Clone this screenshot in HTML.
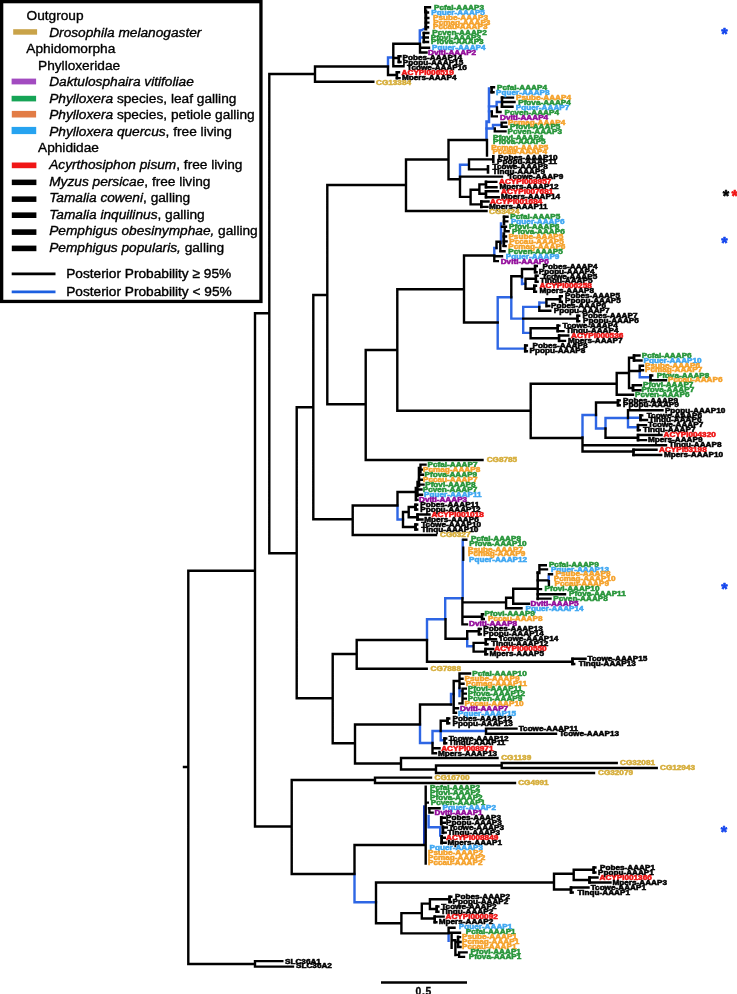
<!DOCTYPE html>
<html lang="en"><head><meta charset="utf-8"><title>AAAP phylogeny</title><style>html,body{margin:0;padding:0;background:#fff}svg{display:block;will-change:transform}</style></head><body>
<svg width="737" height="994" viewBox="0 0 737 994">
<rect width="737" height="994" fill="#fff"/>
<defs><filter id="soft" x="0" y="0" width="100%" height="100%" filterUnits="objectBoundingBox"><feGaussianBlur stdDeviation="0.45"/></filter></defs>
<g filter="url(#soft)"><rect width="737" height="994" fill="#fff"/>
<path d="M420 31L424.8 28.5" fill="none" stroke="#2d66e4" stroke-width="2.2"/>
<path d="M427 618.8V641.2M354.5 872.8V903.5M353.3 902.3H377.2M388 56.3V67.7M386.8 57.5H394.2M419.8 29.3V45M418.6 37.5H424.9M487.8 106.4H497.8M496.6 100.8V107.6M495.4 102H502.8M487.8 111.4H492.8M485.3 128.5H494.2M493 123.8V129.7M491.8 125H502.2M460 163.5V179.7M458.8 164.7H469.7M494.3 246.8V256.7M493.1 248H497.7M497.7 296V349.8M496.5 297.2H512.5M496.5 348.6H526.2M511.3 296V319.8M522 276.1V285.2M520.8 283.8H526.4M510.1 318.6H524.4M523.2 305.7V334.1M522 306.9H540.5M539.3 301.3V308.2M538.1 302.6H547.4M522 332.9H531.5M639.7 369.8V378.5M638.5 377.3H651.7M582.5 413.8V438.7M581.3 415H597.2M596 413.8V429.7M594.8 428.5H606.7M605.5 416.8V429.7M604.3 418H629.2M628 416.8V428.5M626.8 417.7H641.7M626.8 427.3H639.2M397.5 504.3V520.7M396.3 519.5H404.2M462.7 538.8V599.5M444 598.3H463.9M445.2 597.1V620.4M425.8 619.2H446.4M467.2 637.6V647.5M466 646.3H474.2M548.7 575.2V582.4M420 723.3V744.2M451 692.8V705.7M449.8 694H454.9M459.5 686.8V697.2M458.3 691H463.7M418.8 743H433.7M432.5 729.8V744.2M431.3 731H487.2M440.7 729.8V741.5M439.5 740.3H445.7M428.6 814.8V828.5M427.4 827.3H440.8M440.2 826.1V836.8M448.6 932.2V942.1" fill="none" stroke="#2d66e4" stroke-width="2.4"/>
<path d="M424.2 805.3V845" fill="none" stroke="#1c3fb8" stroke-width="2.4"/>
<path d="M486.5 120.25V141.25M485.25 121.5H490.25M489 87.25V123.25M501 222.35V244.25" fill="none" stroke="#2d66e4" stroke-width="2.5"/>
<path d="M182.8 767H189.5M188.3 569.5V965.2M187.1 570.7H256.2M187.1 964H256.2M255 959.9V967.8M253.8 961.1H283.5M253.8 966.6H294.2M255 312.1V827.7M253.8 313.3H270.5M269.3 72.8V554.5M268.1 74H316.2M315 65.3V83M313.8 66.5H389.2M313.8 81.8H374.5M268.1 553.3H297.9M296.7 406.1V699.5M295.5 407.3H314.5M313.3 293.8V520.5M312.1 295H328.5M327.3 183.8V405.5M326.1 185H407.2M406 158.3V212.2M404.8 211H487.7M404.8 159.5H449.7M326.1 404.3H366.9M365.7 348.8V461.2M364.5 350H398.5M397.3 288.1V411.9M396.1 289.3H465.2M396.1 410.7H531.9M530.7 382.5V439.2M529.5 383.7H617.9M529.5 438H583.7M364.5 460H483.7M312.1 519.3H353.9M352.7 504.3V536.2M351.5 505.5H398.7M351.5 535H437.2M295.5 698.3H333.9M332.7 652.8V744.5M331.5 654H357.9M356.7 638.8V670M355.5 640H428.2M355.5 668.8H427.9M427 638.8V662.9M425.8 661.7H573.7M331.5 743.3H356.2M355 723.3V764.7M353.8 724.5H421.2M353.8 763.5H402.2M401 756.8V770.7M399.8 758H498.7M399.8 769.5H437.2M436 764.3V774.2M434.8 773H595.2M434.8 765.5H502.9M501.7 761.8V769.2M500.5 763H617.9M500.5 768H657.9M253.8 826.5H292.9M291.7 778.8V875.2M290.5 780H376.2M375 776.4V784.2M373.8 777.6H432.2M373.8 783H516.2M290.5 874H355.7M354.5 843.8V875.2M353.3 845H426.2M376 881.3V924.4M374.8 882.5H555.2M374.8 923.2H402.6M401.4 911.9V934.6M388 65.3V76.2M393.3 42.6V67.2M392.1 43.8H421.2M420 42.6V53.7M418.8 47.7H430.2M418.8 52.5H427.7M422.6 33H429.5M422.6 37.5H429M422.6 42H429.2M425.2 6V13.2M424 7.2H431.2M424.6 12.5H429.2M424.6 18H429.5M424.6 22.6H429.5M424.6 27.2H429.2M392.1 58H399.7M397.6 56.2H401.7M397.6 62H401.7M392.1 66.2H404.7M386.8 75H397.7M395.7 72.2H400.2M395.7 78.1H400.7M448.5 138.8V180.5M447.3 140H488.2M487 138.8V156.7M490.4 87.3H495.2M490.4 92.2H494.7M500.8 97.6H514.2M501.8 102H515.7M500.8 106.8H513.7M497 106.2V113.2M495.8 112H501.7M491.8 110.2V117.6M490.6 116.4H498M501.6 121.4V128M500.4 122.6H507.2M500.4 126.8H507.8M494.8 127.3V132.6M493.6 131.4H506.7M447.3 179.3H461.2M460 177.3V198.1M469 158.2V170.6M467.8 159.4H493.7M467.8 169.4H488.7M458.8 176.6H503.2M458.8 196.9H471.8M470.6 188.5V205.6M469.4 189.7H480.2M479.4 183.2V195M478.2 184.4H486.8M484.8 181.9H497.5M484.8 187.2H497.7M478.2 193.8H486.8M484.8 191.3H499.2M484.8 197.2H499.9M469.4 204.4H482.5M480.1 201.5H489.7M480.1 206.9H488.7M464 254.3V323.7M462.8 255.5H495.5M494.3 254.3V262.3M493.1 261.1H499M493.1 256.3H503.2M496.5 240.6V249.2M495.3 241.8H501.5M500.3 243.1V252.5M499.1 251.3H505.7M502.6 236.5H507.2M502.6 241.4H507.8M502.6 246.1H506.8M502.8 216.7H508.7M502.8 221.4H508.5M504.7 225.5V232.4M500.8 226.7H507.2M503.5 231.2H509.8M462.8 322.5H498.9M524 345.5H528.1M524 351.3H528.1M511.3 275V298.4M510.1 276.2H522.9M522 267.8V278.5M520.8 269H536M533.9 266H538M533.9 272.2H537.8M525.5 277.6V290M524.3 278.8H536.8M534.7 275.8H538.8M534.7 281.7H538.8M524.3 288.8H535.2M533.1 285.8H537.2M533.1 291.7H537.2M522 318.6H578.4M576.3 315.8H580.4M576.3 321.1H580.4M539.3 305.8V312M546.4 298.1V307.4M545.2 299.3H561M558.9 296.3H563M558.9 301.8H563M545.2 306H550.5M538.1 310.8H551.5M530.6 327V339.4M529.4 328.2H558.6M556.5 325.6H560.6M556.5 331.1H564.7M529.4 338.2H560M557.9 335.5H569.5M557.9 340.9H566.2M616.7 371.8V395.9M615.5 373H630.2M629 356.5V389.2M627.8 357.7H635.2M632.8 355.5H640.7M632.8 360.5H642.7M627.8 371H640.9M639.7 364.5V372.2M638.5 365.7H644.2M638.5 370.2H644.2M649.3 375.5H653.4M649.3 380.2H667.2M627.8 388H634.2M631.8 385.2H642.2M631.8 390.2H641.7M615.5 394.7H634.2M582.5 436.3V452.7M596 401.3V416.2M594.8 402.5H619.2M616.8 400.4H620.9M616.8 405.2H620.9M605.5 427.3V438.9M628 409.1V419.2M626.8 410.2H663.7M639.3 415.4H643.4M639.3 420H648.2M636.8 425.1H647.2M636.8 430.1H640.9M604.3 437.7H639.2M636.8 435H662.7M636.8 440.1H647.2M581.3 445.2H667.2M581.3 451.5H634.7M632.3 449.8H657.7M632.3 455H662.4M397.5 490.8V506.7M396.3 492H416.7M415.8 486.8V501.2M414.6 499.7H418.7M417.5 480.8V497.2M420.5 463.4V473.2M419.3 464.6H426.7M418.8 469.6H423.2M418.8 474.7H424.2M417.8 479.7H423.2M417.3 484.6H424.7M416.3 489.5H422.7M416.3 494.7H423.2M403 510.8V528.2M401.8 512H409.9M408.7 505.8V518.5M407.5 507H416.7M414.3 504.7H418.4M414.3 509.5H418.4M407.5 517.3H418.7M416.3 514.5H430.7M416.3 519.5H423.7M401.8 527H416.7M414.3 524.5H418.4M414.3 529.5H418.4M445.5 618V640M444.3 638.8H468.2M467.2 630.1V640M466 631.3H480.2M477.8 629H481.9M477.8 634.2H481.9M473.6 641.7V652.8M472.4 642.9H486.7M484.6 639.3H497.2M484.6 644.2H488.7M472.4 651.6H486.5M484.3 649H494.4M484.3 654.3H488.4M462.4 597.1V625.6M461.2 602.4H507.3M506.1 596.6V609.5M504.9 597.8H514.4M513.2 587.6V605M512 588.8H538.9M512 603.8H530.2M504.9 608.3H522.7M539.4 564V574.2M538.2 565.2H547M539.3 569.4H548.2M536.5 572.7H540.6M536.5 580.4H548.7M548.9 580V586.4M547.7 574.2H553.2M536.5 589.1H542.2M536.5 594.3H566.2M536.5 598.6H551.7M461.2 616.8H482.9M480.9 614.3H484.4M480.9 619H485M461.2 624.4H468.2M571.3 658.8H586.7M571.3 664H575.4M420 703.3V725.7M418.8 704.5H452.2M453.7 679.8V713.9M452.5 708.3H459.2M452.5 712.7H457.2M452.5 681H460.7M459.5 672.3V689.2M458.3 673.5H471.2M458.3 678.7H463.7M458.3 683.7H464.7M462.5 687.4V704.6M461.3 688.6H467M461.3 693.6H467M461.3 698.6H467M458.3 703.4H463.7M432.5 741.8V754.5M440.7 719.5V732.2M439.5 720.7H448.7M446.3 718.5H450.4M446.3 723.3H450.4M486 727.4V735M484.8 728.6H517.7M484.8 733.8H557.2M443.3 738.5H447.4M443.3 743.2H447.4M431.3 748.3H440.7M431.3 753.3H437.2M425.7 785.6V864.7M424.5 802.6H429M427.8 808.2H440.8M429.4 807V813.8M428.2 812.6H433.8M440.1 817.7H446M440.1 822.7H446M441.7 827.5H448M441.7 832.6H446.9M440.4 837.7H446M440.4 842.7H446.9M554 872.5V890.7M552.8 873.7H574.9M573.7 868.5V881.2M572.5 869.7H594.9M592.5 867.5H596.6M592.5 872.5H596.6M572.5 880H590.7M588.3 877.5H598.7M588.3 882.5H611.7M552.8 889.5H572.2M569.8 887.5H589.7M569.8 892.5H573.9M400.2 913.1H423M421.8 902.4V919.7M420.6 903.6H431.1M429.9 898V910.2M428.7 899.2H450.8M448.4 896.7H452.5M448.4 902H452.2M428.7 909H437.9M435.5 906.5H439.6M435.5 911.8H439.6M420.6 918.5H435.9M433.5 916.6H444.8M433.5 922.2H437.6M400.2 933.4H449.8M448.6 926.6V934.6M447.4 927.8H455.7M447.4 932.7H461.2M451.6 932.9V948.9M450.4 940.2H456.6M455.4 939V956.2M456.9 937.1H461.2M454.2 942H461.7M456.9 947H461.7M454.2 954.9H460.3M459.1 951.2V958.1M457.9 952.4H467.8M457.9 956.9H465.2M381 982.5H467" fill="none" stroke="#000000" stroke-width="2.4"/>
<path d="M423.8 31.75V43.25M537.7 571.25V600.25" fill="none" stroke="#000000" stroke-width="2.5"/>
<path d="M398.8 54.9V63.3M396.9 70.9V79.4M491.6 86V93.5M502 96.3V108.1M493.3 155V163.3M488 165V173.8M486 180.6V188.5M486 190V198.5M481.3 200.2V208.2M504 215.4V225.6M525.2 344.2V352.6M535.1 264.7V273.5M535.9 274.5V283M534.3 284.5V293M577.5 314.5V322.4M560.1 295V303.1M557.7 324.3V332.4M559.1 334.2V342.2M634 354.2V361.8M650.5 374.2V381.5M633 383.9V391.5M618 399.1V406.5M640.5 414.1V421.3M638 423.8V431.4M638 433.7V441.4M633.5 448.5V456.3M419 466.7V487.3M415.5 503.4V510.8M417.5 513.2V520.8M415.5 523.2V530.8M479 627.7V635.5M485.8 638V645.5M485.5 647.7V655.6M482.1 613V620.3M572.5 657.5V665.3M447.5 717.2V724.6M444.5 737.2V744.5M593.7 866.2V873.8M589.5 876.2V883.8M571 886.2V893.8M449.6 895.4V903.3M436.7 905.2V913.1M434.7 915.3V923.5M458.1 935.5V947.8" fill="none" stroke="#000000" stroke-width="2.6"/>
<path d="M503.8 232.2V247M441.3 815.9V825.5M442.9 825.4V834.3M441.6 834.9V844.5" fill="none" stroke="#000000" stroke-width="2.8"/>
<path d="M425.8 9.5V30.5" fill="none" stroke="#000000" stroke-width="3"/>
<path d="M463.3 546.5V560.9" fill="none" stroke="#000000" stroke-width="2.2"/>
<path d="M462.2 539.7H467.5" fill="none" stroke="#000000" stroke-width="2.4"/>
<g font-family="'Liberation Sans', Arial, Helvetica, sans-serif" font-weight="bold" font-size="6.6" stroke-width="0.5">
<text transform="translate(434 9.9) scale(1.24 1)" fill="#27953a" stroke="#27953a">Pcfal-AAAP3</text>
<text transform="translate(431.3 14.7) scale(1.24 1)" fill="#3fa7f2" stroke="#3fa7f2">Pquer-AAAP5</text>
<text transform="translate(433 20.2) scale(1.24 1)" fill="#f5a22c" stroke="#f5a22c">Psube-AAAP3</text>
<text transform="translate(433.2 24.8) scale(1.24 1)" fill="#f5a22c" stroke="#f5a22c">Pcmag-AAAP3</text>
<text transform="translate(433 29.4) scale(1.24 1)" fill="#f5a22c" stroke="#f5a22c">Pccau-AAAP3</text>
<text transform="translate(432.3 34.9) scale(1.24 1)" fill="#27953a" stroke="#27953a">Pcven-AAAP2</text>
<text transform="translate(430.7 39.7) scale(1.24 1)" fill="#27953a" stroke="#27953a">Pfovi-AAAP3</text>
<text transform="translate(431 44.4) scale(1.24 1)" fill="#27953a" stroke="#27953a">Pfova-AAAP3</text>
<text transform="translate(432 49.6) scale(1.24 1)" fill="#3fa7f2" stroke="#3fa7f2">Pquer-AAAP4</text>
<text transform="translate(428 54.7) scale(1.24 1)" fill="#930c9a" stroke="#930c9a">Dviti-AAAP2</text>
<text transform="translate(402.5 60) scale(1.24 1)" fill="#000000" stroke="#000000">Pobes-AAAP14</text>
<text transform="translate(402.8 64.5) scale(1.24 1)" fill="#000000" stroke="#000000">Ppopu-AAAP15</text>
<text transform="translate(407.1 69.5) scale(1.24 1)" fill="#000000" stroke="#000000">Tcowe-AAAP16</text>
<text transform="translate(401.6 74.5) scale(1.24 1)" fill="#ee1414" stroke="#ee1414">ACYPI006519</text>
<text transform="translate(402 79.7) scale(1.24 1)" fill="#000000" stroke="#000000">Mpers-AAAP4</text>
<text transform="translate(376 84.5) scale(1.24 1)" fill="#d6ae3c" stroke="#d6ae3c">CG13384</text>
<text transform="translate(497 90.1) scale(1.24 1)" fill="#27953a" stroke="#27953a">Pcfal-AAAP4</text>
<text transform="translate(496 94.8) scale(1.24 1)" fill="#3fa7f2" stroke="#3fa7f2">Pquer-AAAP8</text>
<text transform="translate(516 100.1) scale(1.24 1)" fill="#f5a22c" stroke="#f5a22c">Psube-AAAP4</text>
<text transform="translate(518.2 104.8) scale(1.24 1)" fill="#27953a" stroke="#27953a">Pfova-AAAP4</text>
<text transform="translate(515.7 109.6) scale(1.24 1)" fill="#3fa7f2" stroke="#3fa7f2">Pquer-AAAP7</text>
<text transform="translate(504.5 114.7) scale(1.24 1)" fill="#27953a" stroke="#27953a">Pcven-AAAP4</text>
<text transform="translate(500 119.6) scale(1.24 1)" fill="#930c9a" stroke="#930c9a">Dviti-AAAP4</text>
<text transform="translate(508 124.6) scale(1.24 1)" fill="#f5a22c" stroke="#f5a22c">Pcmag-AAAP4</text>
<text transform="translate(510 129.4) scale(1.24 1)" fill="#27953a" stroke="#27953a">Pfovi-AAAP5</text>
<text transform="translate(507.5 134.4) scale(1.24 1)" fill="#27953a" stroke="#27953a">Pcven-AAAP3</text>
<text transform="translate(493 139.6) scale(1.24 1)" fill="#27953a" stroke="#27953a">Pfovi-AAAP4</text>
<text transform="translate(493 144.2) scale(1.24 1)" fill="#27953a" stroke="#27953a">Pfova-AAAP5</text>
<text transform="translate(491.2 149.6) scale(1.24 1)" fill="#f5a22c" stroke="#f5a22c">Pcmag-AAAP5</text>
<text transform="translate(492.5 154.2) scale(1.24 1)" fill="#f5a22c" stroke="#f5a22c">Pccau-AAAP4</text>
<text transform="translate(498 159.6) scale(1.24 1)" fill="#000000" stroke="#000000">Pobes-AAAP10</text>
<text transform="translate(497 164.4) scale(1.24 1)" fill="#000000" stroke="#000000">Ppopu-AAAP11</text>
<text transform="translate(492.5 169.4) scale(1.24 1)" fill="#000000" stroke="#000000">Tcowe-AAAP8</text>
<text transform="translate(492.5 174.2) scale(1.24 1)" fill="#000000" stroke="#000000">Tinqu-AAAP9</text>
<text transform="translate(508 179.4) scale(1.24 1)" fill="#000000" stroke="#000000">Tcowe-AAAP9</text>
<text transform="translate(499 184.4) scale(1.24 1)" fill="#ee1414" stroke="#ee1414">ACYPI008957</text>
<text transform="translate(499.5 189.4) scale(1.24 1)" fill="#000000" stroke="#000000">Mpers-AAAP12</text>
<text transform="translate(501 194.4) scale(1.24 1)" fill="#ee1414" stroke="#ee1414">ACYPI007681</text>
<text transform="translate(501 199.4) scale(1.24 1)" fill="#000000" stroke="#000000">Mpers-AAAP14</text>
<text transform="translate(490 204.4) scale(1.24 1)" fill="#ee1414" stroke="#ee1414">ACYPI001684</text>
<text transform="translate(489 209.4) scale(1.24 1)" fill="#000000" stroke="#000000">Mpers-AAAP11</text>
<text transform="translate(489 214.4) scale(1.24 1)" fill="#d6ae3c" stroke="#d6ae3c">CG3424</text>
<text transform="translate(510.3 218.9) scale(1.24 1)" fill="#27953a" stroke="#27953a">Pcfal-AAAP5</text>
<text transform="translate(510.9 223.7) scale(1.24 1)" fill="#3fa7f2" stroke="#3fa7f2">Pquer-AAAP6</text>
<text transform="translate(509 228.7) scale(1.24 1)" fill="#27953a" stroke="#27953a">Pfovi-AAAP6</text>
<text transform="translate(512.1 233.7) scale(1.24 1)" fill="#27953a" stroke="#27953a">Pfova-AAAP6</text>
<text transform="translate(508.4 238.7) scale(1.24 1)" fill="#f5a22c" stroke="#f5a22c">Psube-AAAP5</text>
<text transform="translate(509.3 243.7) scale(1.24 1)" fill="#f5a22c" stroke="#f5a22c">Pccau-AAAP5</text>
<text transform="translate(508.2 248.5) scale(1.24 1)" fill="#f5a22c" stroke="#f5a22c">Pcmag-AAAP6</text>
<text transform="translate(508.3 253.7) scale(1.24 1)" fill="#27953a" stroke="#27953a">Pcven-AAAP5</text>
<text transform="translate(505.8 258.7) scale(1.24 1)" fill="#3fa7f2" stroke="#3fa7f2">Pquer-AAAP9</text>
<text transform="translate(500.7 263.7) scale(1.24 1)" fill="#930c9a" stroke="#930c9a">Dviti-AAAP6</text>
<text transform="translate(542.5 268.9) scale(1.24 1)" fill="#000000" stroke="#000000">Pobes-AAAP4</text>
<text transform="translate(538.7 273.7) scale(1.24 1)" fill="#000000" stroke="#000000">Ppopu-AAAP4</text>
<text transform="translate(542 278.7) scale(1.24 1)" fill="#000000" stroke="#000000">Tcowe-AAAP5</text>
<text transform="translate(540 283.4) scale(1.24 1)" fill="#000000" stroke="#000000">Tinqu-AAAP5</text>
<text transform="translate(539.5 288.4) scale(1.24 1)" fill="#ee1414" stroke="#ee1414">ACYPI006258</text>
<text transform="translate(539.5 293.4) scale(1.24 1)" fill="#000000" stroke="#000000">Mpers-AAAP8</text>
<text transform="translate(565 298.4) scale(1.24 1)" fill="#000000" stroke="#000000">Pobes-AAAP5</text>
<text transform="translate(565 303.2) scale(1.24 1)" fill="#000000" stroke="#000000">Ppopu-AAAP5</text>
<text transform="translate(551 308.2) scale(1.24 1)" fill="#000000" stroke="#000000">Pobes-AAAP6</text>
<text transform="translate(553.7 313.4) scale(1.24 1)" fill="#000000" stroke="#000000">Ppopu-AAAP7</text>
<text transform="translate(582.5 318.4) scale(1.24 1)" fill="#000000" stroke="#000000">Pobes-AAAP7</text>
<text transform="translate(583 323) scale(1.24 1)" fill="#000000" stroke="#000000">Ppopu-AAAP6</text>
<text transform="translate(562.5 328.2) scale(1.24 1)" fill="#000000" stroke="#000000">Tcowe-AAAP4</text>
<text transform="translate(566 333.2) scale(1.24 1)" fill="#000000" stroke="#000000">Tinqu-AAAP4</text>
<text transform="translate(571 338) scale(1.24 1)" fill="#ee1414" stroke="#ee1414">ACYPI000536</text>
<text transform="translate(568 342.8) scale(1.24 1)" fill="#000000" stroke="#000000">Mpers-AAAP7</text>
<text transform="translate(532.5 348) scale(1.24 1)" fill="#000000" stroke="#000000">Pobes-AAAP8</text>
<text transform="translate(529.5 352.9) scale(1.24 1)" fill="#000000" stroke="#000000">Ppopu-AAAP8</text>
<text transform="translate(641.7 357.9) scale(1.24 1)" fill="#27953a" stroke="#27953a">Pcfal-AAAP6</text>
<text transform="translate(643.5 362.9) scale(1.24 1)" fill="#3fa7f2" stroke="#3fa7f2">Pquer-AAAP10</text>
<text transform="translate(645 367.9) scale(1.24 1)" fill="#f5a22c" stroke="#f5a22c">Psube-AAAP6</text>
<text transform="translate(645 372.4) scale(1.24 1)" fill="#f5a22c" stroke="#f5a22c">Pcmag-AAAP7</text>
<text transform="translate(656.7 377.7) scale(1.24 1)" fill="#27953a" stroke="#27953a">Pfova-AAAP8</text>
<text transform="translate(668 382.4) scale(1.24 1)" fill="#f5a22c" stroke="#f5a22c">Pccau-AAAP6</text>
<text transform="translate(643 387.4) scale(1.24 1)" fill="#27953a" stroke="#27953a">Pfovi-AAAP7</text>
<text transform="translate(641.6 392.4) scale(1.24 1)" fill="#27953a" stroke="#27953a">Pfova-AAAP7</text>
<text transform="translate(635 397.4) scale(1.24 1)" fill="#27953a" stroke="#27953a">Pcven-AAAP6</text>
<text transform="translate(623 402.6) scale(1.24 1)" fill="#000000" stroke="#000000">Pobes-AAAP9</text>
<text transform="translate(623 407.4) scale(1.24 1)" fill="#000000" stroke="#000000">Ppopu-AAAP9</text>
<text transform="translate(664.9 412.5) scale(1.24 1)" fill="#000000" stroke="#000000">Ppopu-AAAP10</text>
<text transform="translate(646.7 417.6) scale(1.24 1)" fill="#000000" stroke="#000000">Tcowe-AAAP6</text>
<text transform="translate(649 422.2) scale(1.24 1)" fill="#000000" stroke="#000000">Tinqu-AAAP6</text>
<text transform="translate(648 427.3) scale(1.24 1)" fill="#000000" stroke="#000000">Tcowe-AAAP7</text>
<text transform="translate(643 432.3) scale(1.24 1)" fill="#000000" stroke="#000000">Tinqu-AAAP7</text>
<text transform="translate(663.5 437.2) scale(1.24 1)" fill="#ee1414" stroke="#ee1414">ACYPI004320</text>
<text transform="translate(648 442.3) scale(1.24 1)" fill="#000000" stroke="#000000">Mpers-AAAP9</text>
<text transform="translate(669 447.3) scale(1.24 1)" fill="#000000" stroke="#000000">Tinqu-AAAP8</text>
<text transform="translate(659 452.2) scale(1.24 1)" fill="#ee1414" stroke="#ee1414">ACYPI53198</text>
<text transform="translate(664 457) scale(1.24 1)" fill="#000000" stroke="#000000">Mpers-AAAP10</text>
<text transform="translate(486.7 462.2) scale(1.24 1)" fill="#d6ae3c" stroke="#d6ae3c">CG8785</text>
<text transform="translate(427.5 466.8) scale(1.24 1)" fill="#27953a" stroke="#27953a">Pcfal-AAAP7</text>
<text transform="translate(423 471.8) scale(1.24 1)" fill="#f5a22c" stroke="#f5a22c">Pcmag-AAAP8</text>
<text transform="translate(424.5 476.9) scale(1.24 1)" fill="#27953a" stroke="#27953a">Pfova-AAAP9</text>
<text transform="translate(423 481.9) scale(1.24 1)" fill="#f5a22c" stroke="#f5a22c">Pccau-AAAP7</text>
<text transform="translate(425.2 486.8) scale(1.24 1)" fill="#27953a" stroke="#27953a">Pfovi-AAAP8</text>
<text transform="translate(422.7 491.7) scale(1.24 1)" fill="#27953a" stroke="#27953a">Pcven-AAAP7</text>
<text transform="translate(424 496.9) scale(1.24 1)" fill="#3fa7f2" stroke="#3fa7f2">Pquer-AAAP11</text>
<text transform="translate(419 501.9) scale(1.24 1)" fill="#930c9a" stroke="#930c9a">Dviti-AAAP3</text>
<text transform="translate(420.2 506.9) scale(1.24 1)" fill="#000000" stroke="#000000">Pobes-AAAP11</text>
<text transform="translate(420.2 511.7) scale(1.24 1)" fill="#000000" stroke="#000000">Ppopu-AAAP12</text>
<text transform="translate(431.5 516.7) scale(1.24 1)" fill="#ee1414" stroke="#ee1414">ACYPI001018</text>
<text transform="translate(424.2 521.7) scale(1.24 1)" fill="#000000" stroke="#000000">Mpers-AAAP6</text>
<text transform="translate(421.2 526.7) scale(1.24 1)" fill="#000000" stroke="#000000">Tcowe-AAAP10</text>
<text transform="translate(421.2 531.7) scale(1.24 1)" fill="#000000" stroke="#000000">Tinqu-AAAP10</text>
<text transform="translate(440 536.6) scale(1.24 1)" fill="#d6ae3c" stroke="#d6ae3c">CG6327</text>
<text transform="translate(471 541.4) scale(1.24 1)" fill="#27953a" stroke="#27953a">Pcfal-AAAP8</text>
<text transform="translate(469.3 546.4) scale(1.24 1)" fill="#27953a" stroke="#27953a">Pfova-AAAP10</text>
<text transform="translate(468 551.5) scale(1.24 1)" fill="#f5a22c" stroke="#f5a22c">Psube-AAAP7</text>
<text transform="translate(468 556.4) scale(1.24 1)" fill="#f5a22c" stroke="#f5a22c">Pcmag-AAAP9</text>
<text transform="translate(469 561.5) scale(1.24 1)" fill="#3fa7f2" stroke="#3fa7f2">Pquer-AAAP12</text>
<text transform="translate(548.9 566.8) scale(1.24 1)" fill="#27953a" stroke="#27953a">Pcfal-AAAP9</text>
<text transform="translate(551 571.6) scale(1.24 1)" fill="#3fa7f2" stroke="#3fa7f2">Pquer-AAAP13</text>
<text transform="translate(555.5 576.4) scale(1.24 1)" fill="#f5a22c" stroke="#f5a22c">Psube-AAAP8</text>
<text transform="translate(553.7 581.4) scale(1.24 1)" fill="#f5a22c" stroke="#f5a22c">Pcmag-AAAP10</text>
<text transform="translate(554.5 586.4) scale(1.24 1)" fill="#f5a22c" stroke="#f5a22c">Pccau-AAAP9</text>
<text transform="translate(544.5 591.2) scale(1.24 1)" fill="#27953a" stroke="#27953a">Pfovi-AAAP10</text>
<text transform="translate(569 596.2) scale(1.24 1)" fill="#27953a" stroke="#27953a">Pfova-AAAP11</text>
<text transform="translate(553.3 601.2) scale(1.24 1)" fill="#27953a" stroke="#27953a">Pcven-AAAP8</text>
<text transform="translate(530.5 606.2) scale(1.24 1)" fill="#930c9a" stroke="#930c9a">Dviti-AAAP5</text>
<text transform="translate(525.5 611.2) scale(1.24 1)" fill="#3fa7f2" stroke="#3fa7f2">Pquer-AAAP14</text>
<text transform="translate(484.5 616.2) scale(1.24 1)" fill="#27953a" stroke="#27953a">Pfovi-AAAP9</text>
<text transform="translate(488 621.2) scale(1.24 1)" fill="#f5a22c" stroke="#f5a22c">Pccau-AAAP8</text>
<text transform="translate(469 626) scale(1.24 1)" fill="#930c9a" stroke="#930c9a">Dviti-AAAP8</text>
<text transform="translate(483.3 630.9) scale(1.24 1)" fill="#000000" stroke="#000000">Pobes-AAAP13</text>
<text transform="translate(483.3 636) scale(1.24 1)" fill="#000000" stroke="#000000">Ppopu-AAAP14</text>
<text transform="translate(498.6 640.8) scale(1.24 1)" fill="#000000" stroke="#000000">Tcowe-AAAP14</text>
<text transform="translate(491.2 645.8) scale(1.24 1)" fill="#000000" stroke="#000000">Tinqu-AAAP12</text>
<text transform="translate(494.3 650.9) scale(1.24 1)" fill="#ee1414" stroke="#ee1414">ACYPI000550</text>
<text transform="translate(489.5 655.9) scale(1.24 1)" fill="#000000" stroke="#000000">Mpers-AAAP5</text>
<text transform="translate(587.5 661) scale(1.24 1)" fill="#000000" stroke="#000000">Tcowe-AAAP15</text>
<text transform="translate(578.7 666.2) scale(1.24 1)" fill="#000000" stroke="#000000">Tinqu-AAAP13</text>
<text transform="translate(430.5 671) scale(1.24 1)" fill="#d6ae3c" stroke="#d6ae3c">CG7888</text>
<text transform="translate(472.2 675.7) scale(1.24 1)" fill="#27953a" stroke="#27953a">Pcfal-AAAP10</text>
<text transform="translate(464.5 680.9) scale(1.24 1)" fill="#f5a22c" stroke="#f5a22c">Psube-AAAP9</text>
<text transform="translate(465.7 685.9) scale(1.24 1)" fill="#f5a22c" stroke="#f5a22c">Pcmag-AAAP11</text>
<text transform="translate(467.8 690.8) scale(1.24 1)" fill="#27953a" stroke="#27953a">Pfovi-AAAP11</text>
<text transform="translate(467.8 695.8) scale(1.24 1)" fill="#27953a" stroke="#27953a">Pfova-AAAP12</text>
<text transform="translate(467.8 700.8) scale(1.24 1)" fill="#27953a" stroke="#27953a">Pcven-AAAP9</text>
<text transform="translate(464.5 705.6) scale(1.24 1)" fill="#f5a22c" stroke="#f5a22c">Pccau-AAAP10</text>
<text transform="translate(460 710.5) scale(1.24 1)" fill="#930c9a" stroke="#930c9a">Dviti-AAAP7</text>
<text transform="translate(458 715.7) scale(1.24 1)" fill="#3fa7f2" stroke="#3fa7f2">Pquer-AAAP15</text>
<text transform="translate(452.5 720.7) scale(1.24 1)" fill="#000000" stroke="#000000">Pobes-AAAP12</text>
<text transform="translate(452.5 725.5) scale(1.24 1)" fill="#000000" stroke="#000000">Ppopu-AAAP13</text>
<text transform="translate(518.7 730.7) scale(1.24 1)" fill="#000000" stroke="#000000">Tcowe-AAAP11</text>
<text transform="translate(559.2 736.2) scale(1.24 1)" fill="#000000" stroke="#000000">Tcowe-AAAP13</text>
<text transform="translate(448.7 740.7) scale(1.24 1)" fill="#000000" stroke="#000000">Tcowe-AAAP12</text>
<text transform="translate(448.7 745.4) scale(1.24 1)" fill="#000000" stroke="#000000">Tinqu-AAAP11</text>
<text transform="translate(441.2 750.5) scale(1.24 1)" fill="#ee1414" stroke="#ee1414">ACYPI008971</text>
<text transform="translate(438 755.5) scale(1.24 1)" fill="#000000" stroke="#000000">Mpers-AAAP13</text>
<text transform="translate(501.2 760.2) scale(1.24 1)" fill="#d6ae3c" stroke="#d6ae3c">CG1139</text>
<text transform="translate(620 765.4) scale(1.24 1)" fill="#d6ae3c" stroke="#d6ae3c">CG32081</text>
<text transform="translate(660 770.4) scale(1.24 1)" fill="#d6ae3c" stroke="#d6ae3c">CG12943</text>
<text transform="translate(598 775.2) scale(1.24 1)" fill="#d6ae3c" stroke="#d6ae3c">CG32079</text>
<text transform="translate(434.5 780) scale(1.24 1)" fill="#d6ae3c" stroke="#d6ae3c">CG16700</text>
<text transform="translate(518.2 785.4) scale(1.24 1)" fill="#d6ae3c" stroke="#d6ae3c">CG4991</text>
<text transform="translate(430 790.4) scale(1.24 1)" fill="#27953a" stroke="#27953a">Pcfal-AAAP2</text>
<text transform="translate(430 795.2) scale(1.24 1)" fill="#27953a" stroke="#27953a">Pfovi-AAAP2</text>
<text transform="translate(430 800.2) scale(1.24 1)" fill="#27953a" stroke="#27953a">Pfova-AAAP2</text>
<text transform="translate(430.7 805.2) scale(1.24 1)" fill="#27953a" stroke="#27953a">Pcven-AAAP1</text>
<text transform="translate(442.5 810.2) scale(1.24 1)" fill="#3fa7f2" stroke="#3fa7f2">Pquer-AAAP2</text>
<text transform="translate(434.5 815.2) scale(1.24 1)" fill="#930c9a" stroke="#930c9a">Dviti-AAAP1</text>
<text transform="translate(446 820.2) scale(1.24 1)" fill="#000000" stroke="#000000">Pobes-AAAP3</text>
<text transform="translate(446 825) scale(1.24 1)" fill="#000000" stroke="#000000">Ppopu-AAAP3</text>
<text transform="translate(448.7 829.8) scale(1.24 1)" fill="#000000" stroke="#000000">Tcowe-AAAP3</text>
<text transform="translate(447.5 834.7) scale(1.24 1)" fill="#000000" stroke="#000000">Tinqu-AAAP3</text>
<text transform="translate(446 839.7) scale(1.24 1)" fill="#ee1414" stroke="#ee1414">ACYPI008849</text>
<text transform="translate(447.5 844.7) scale(1.24 1)" fill="#000000" stroke="#000000">Mpers-AAAP1</text>
<text transform="translate(429.5 849.7) scale(1.24 1)" fill="#3fa7f2" stroke="#3fa7f2">Pquer-AAAP3</text>
<text transform="translate(428 854.7) scale(1.24 1)" fill="#f5a22c" stroke="#f5a22c">Psube-AAAP2</text>
<text transform="translate(428 859.7) scale(1.24 1)" fill="#f5a22c" stroke="#f5a22c">Pcmag-AAAP2</text>
<text transform="translate(428 864.7) scale(1.24 1)" fill="#f5a22c" stroke="#f5a22c">Pccau-AAAP2</text>
<text transform="translate(600 869.7) scale(1.24 1)" fill="#000000" stroke="#000000">Pobes-AAAP1</text>
<text transform="translate(598 874.7) scale(1.24 1)" fill="#000000" stroke="#000000">Ppopu-AAAP1</text>
<text transform="translate(599.5 879.7) scale(1.24 1)" fill="#ee1414" stroke="#ee1414">ACYPI001366</text>
<text transform="translate(612.5 884.7) scale(1.24 1)" fill="#000000" stroke="#000000">Mpers-AAAP3</text>
<text transform="translate(590.7 889.7) scale(1.24 1)" fill="#000000" stroke="#000000">Tcowe-AAAP1</text>
<text transform="translate(577.5 894.7) scale(1.24 1)" fill="#000000" stroke="#000000">Tinqu-AAAP1</text>
<text transform="translate(455 899.2) scale(1.24 1)" fill="#000000" stroke="#000000">Pobes-AAAP2</text>
<text transform="translate(452.5 904.4) scale(1.24 1)" fill="#000000" stroke="#000000">Ppopu-AAAP2</text>
<text transform="translate(441.2 909.2) scale(1.24 1)" fill="#000000" stroke="#000000">Tcowe-AAAP2</text>
<text transform="translate(440.7 914) scale(1.24 1)" fill="#000000" stroke="#000000">Tinqu-AAAP2</text>
<text transform="translate(445.5 919.2) scale(1.24 1)" fill="#ee1414" stroke="#ee1414">ACYPI000092</text>
<text transform="translate(438.7 924.2) scale(1.24 1)" fill="#000000" stroke="#000000">Mpers-AAAP2</text>
<text transform="translate(458.7 929.2) scale(1.24 1)" fill="#3fa7f2" stroke="#3fa7f2">Pquer-AAAP1</text>
<text transform="translate(465.7 934.2) scale(1.24 1)" fill="#27953a" stroke="#27953a">Pcfal-AAAP1</text>
<text transform="translate(462 939.2) scale(1.24 1)" fill="#f5a22c" stroke="#f5a22c">Psube-AAAP1</text>
<text transform="translate(462 944.2) scale(1.24 1)" fill="#f5a22c" stroke="#f5a22c">Pcmag-AAAP1</text>
<text transform="translate(462 949.2) scale(1.24 1)" fill="#f5a22c" stroke="#f5a22c">Pccau-AAAP1</text>
<text transform="translate(470.5 954.2) scale(1.24 1)" fill="#27953a" stroke="#27953a">Pfovi-AAAP1</text>
<text transform="translate(468.7 959.2) scale(1.24 1)" fill="#27953a" stroke="#27953a">Pfova-AAAP1</text>
<text transform="translate(285 963.5) scale(1.24 1)" fill="#000000" stroke="#000000">SLC36A1</text>
<text transform="translate(296 968.4) scale(1.24 1)" fill="#000000" stroke="#000000">SLC36A2</text>
</g>
<rect x="1.65" y="1.65" width="259.3" height="299.8" fill="#fff" stroke="#000" stroke-width="3.3"/>
<g font-family="'Liberation Sans', Arial, Helvetica, sans-serif" font-size="13.7" fill="#000" stroke="#000" stroke-width="0.36">
<text x="26.5" y="20.00"><tspan>Outgroup</tspan></text>
<rect x="13.2" y="29.2" width="23.9" height="5.5" fill="#c9a34a" stroke="none"/>
<text x="49.2" y="36.55"><tspan font-style="italic">Drosophila melanogaster</tspan></text>
<text x="26.3" y="53.10"><tspan>Aphidomorpha</tspan></text>
<text x="38.0" y="69.65"><tspan>Phylloxeridae</tspan></text>
<rect x="11.6" y="78.6" width="24.5" height="5.8" fill="#a24bc0" stroke="none"/>
<text x="49.2" y="86.20"><tspan font-style="italic">Daktulosphaira vitifoliae</tspan></text>
<rect x="11.6" y="95.8" width="24.5" height="5.6" fill="#15a456" stroke="none"/>
<text x="49.2" y="102.75"><tspan font-style="italic">Phylloxera</tspan><tspan> species, leaf galling</tspan></text>
<rect x="11.8" y="110.9" width="24.3" height="6.6" fill="#e27b45" stroke="none"/>
<text x="49.2" y="119.30"><tspan font-style="italic">Phylloxera</tspan><tspan> species, petiole galling</tspan></text>
<rect x="11.6" y="126.9" width="24.6" height="7.2" fill="#25a3f0" stroke="none"/>
<text x="49.2" y="135.85"><tspan font-style="italic">Phylloxera quercus</tspan><tspan>, free living</tspan></text>
<text x="38.0" y="152.40"><tspan>Aphididae</tspan></text>
<rect x="11.8" y="162.5" width="24.6" height="5.7" fill="#f01818" stroke="none"/>
<text x="49.2" y="168.95"><tspan font-style="italic">Acyrthosiphon pisum</tspan><tspan>, free living</tspan></text>
<rect x="11.8" y="179.6" width="24.6" height="5.5" fill="#000" stroke="none"/>
<text x="49.2" y="185.50"><tspan font-style="italic">Myzus persicae</tspan><tspan>, free living</tspan></text>
<rect x="11.8" y="196.4" width="24.6" height="5.5" fill="#000" stroke="none"/>
<text x="49.2" y="202.05"><tspan font-style="italic">Tamalia coweni</tspan><tspan>, galling</tspan></text>
<rect x="11.8" y="212.4" width="24.6" height="5.6" fill="#000" stroke="none"/>
<text x="49.2" y="218.60"><tspan font-style="italic">Tamalia inquilinus</tspan><tspan>, galling</tspan></text>
<rect x="11.8" y="229.3" width="24.6" height="5.6" fill="#000" stroke="none"/>
<text x="49.2" y="235.15"><tspan font-style="italic">Pemphigus obesinymphae,</tspan><tspan> galling</tspan></text>
<rect x="11.8" y="245.6" width="24.6" height="5.6" fill="#000" stroke="none"/>
<text x="49.2" y="251.70"><tspan font-style="italic">Pemphigus popularis,</tspan><tspan> galling</tspan></text>
<path d="M11.7 273.8H55.5" stroke="#000" stroke-width="2.8" fill="none"/>
<path d="M11.7 291.8H55.5" stroke="#1f5fe0" stroke-width="2.8" fill="none"/>
<text x="66.2" y="277.6" stroke="#000" stroke-width="0.4">Posterior Probability ≥ 95%</text>
<text x="66.2" y="296.2" stroke="#000" stroke-width="0.4">Posterior Probability &lt; 95%</text>
</g>
<g font-family="'Liberation Sans', Arial, Helvetica, sans-serif" font-weight="bold" font-size="16.5" text-anchor="middle" stroke-width="0.65" stroke-linejoin="round">
<text x="724.5" y="40.30" fill="#1446ee" stroke="#1446ee">*</text>
<text x="726.0" y="201.90" fill="#000" stroke="#000">*</text>
<text x="734.6" y="201.90" fill="#f01414" stroke="#f01414">*</text>
<text x="724.5" y="249.20" fill="#1446ee" stroke="#1446ee">*</text>
<text x="724.4" y="594.90" fill="#1446ee" stroke="#1446ee">*</text>
<text x="723.9" y="838.40" fill="#1446ee" stroke="#1446ee">*</text>
</g>
<text x="415.6" y="995.3" font-family="'Liberation Sans', Arial, Helvetica, sans-serif" font-weight="bold" font-size="10.3" letter-spacing="0.7" stroke="#000" stroke-width="0.3">0.5</text>
</g>
</svg>
</body></html>
